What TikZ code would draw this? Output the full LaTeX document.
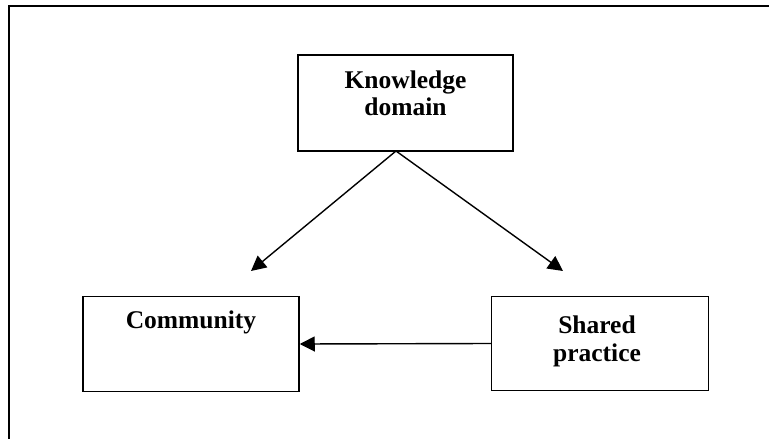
\documentclass[tikz,border=0pt]{standalone}
\usepackage{fontspec}
\setmainfont{Liberation Serif}
\usetikzlibrary{arrows.meta}
\begin{document}
\begin{tikzpicture}[x=1pt,y=-1pt,
  box/.style={draw=black,line width=1.5pt,rectangle,inner sep=0pt},
  lbl/.style={font=\fontsize{25.5}{27}\selectfont\bfseries,anchor=base,inner sep=0pt},
  conn/.style={line width=1.4pt,-{Triangle[length=15pt,width=15pt]}}]
\useasboundingbox (0,0) rectangle (769,439);
\coordinate (frTR) at (769,6);
\coordinate (frTL) at (9,6);
\coordinate (frBL) at (9,439);
\draw[line width=1.7pt] (frTR) -- (frTL) -- (frBL);
\node[box,minimum width=215pt,minimum height=96pt] (kd) at (405.5,103) {};
\node[box,minimum width=216pt,minimum height=95pt] (cm) at (191,344) {};
\node[box,minimum width=217pt,minimum height=94pt] (sp) at (600,343.5) {};
\node[lbl] (kdt1) at (405.5,88) {Knowledge};
\node[lbl] (kdt2) at (405.5,115) {domain};
\node[lbl] (cmt) at (191,328) {Community};
\node[lbl] (spt1) at (597,333) {Shared};
\node[lbl] (spt2) at (597,361) {practice};
\coordinate (apex) at (396,151);
\coordinate (tipL) at (251,271);
\coordinate (tipR) at (563,271);
\draw[conn] (apex) -- (tipL);
\draw[conn] (apex) -- (tipR);
\draw[conn] (sp.west) -- (cm.east);
\end{tikzpicture}
\end{document}
